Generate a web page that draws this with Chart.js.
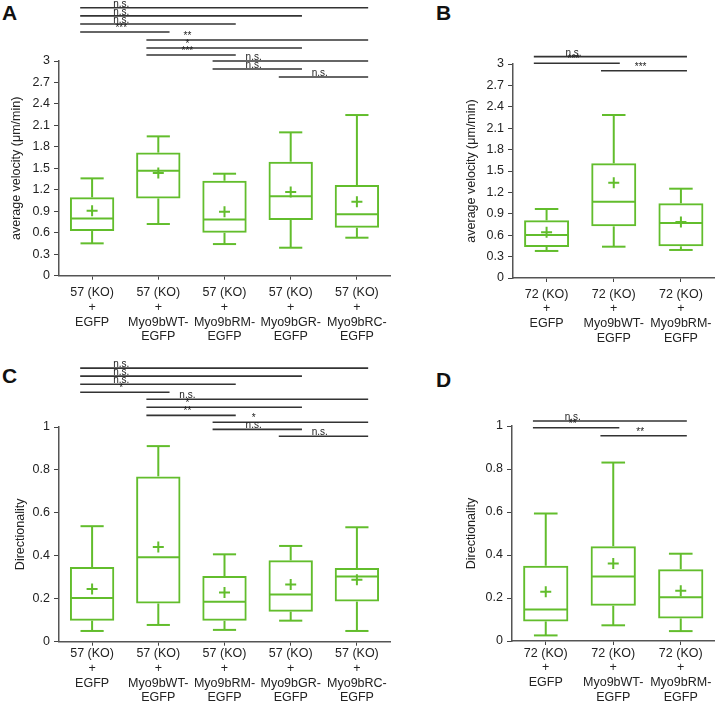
<!DOCTYPE html>
<html>
<head>
<meta charset="utf-8">
<script src="https://cdn.jsdelivr.net/npm/chart.js@4.4.1/dist/chart.umd.min.js"></script>
<style>
  body { margin: 0; background: #fff; width: 722px; height: 707px; position: relative; overflow: hidden; font-family: "Liberation Sans", Arial, sans-serif; }
  canvas { position: absolute; }
  .tag { position: absolute; font-weight: bold; font-size: 21px; line-height: 21px; color: #111; }
</style>
</head>
<body>
<div class="tag" style="left:2px;top:2px">A</div>
<div class="tag" style="left:436px;top:2px">B</div>
<div class="tag" style="left:2px;top:365px">C</div>
<div class="tag" style="left:436px;top:369px">D</div>
<canvas id="chartA" width="400" height="350" style="left:0;top:0"></canvas>
<canvas id="chartB" width="302" height="350" style="left:420px;top:0"></canvas>
<canvas id="chartC" width="400" height="352" style="left:0;top:355px"></canvas>
<canvas id="chartD" width="302" height="352" style="left:420px;top:355px"></canvas>
<script>
const GREEN = '#62bd2c';
const INK = '#222';

const groups57 = [
    ['57 (KO)', '+', 'EGFP'],
    ['57 (KO)', '+', 'Myo9bWT-', 'EGFP'],
    ['57 (KO)', '+', 'Myo9bRM-', 'EGFP'],
    ['57 (KO)', '+', 'Myo9bGR-', 'EGFP'],
    ['57 (KO)', '+', 'Myo9bRC-', 'EGFP'],
];
const groups72 = [
    ['72 (KO)', '+', 'EGFP'],
    ['72 (KO)', '+', 'Myo9bWT-', 'EGFP'],
    ['72 (KO)', '+', 'Myo9bRM-', 'EGFP'],
];

// A - average velocity, 57 (KO)
const velMin57 = [0.452, 0.722, 0.442, 0.391, 0.531];
const velQ1_57 = [0.624, 1.08, 0.60, 0.778, 0.671];
const velMed57 = [0.80, 1.467, 0.787, 1.109, 0.857];
const velQ3_57 = [1.095, 1.72, 1.327, 1.593, 1.267];
const velMax57 = [1.36, 1.947, 1.425, 2.003, 2.245];
const velMean57 = [0.908, 1.435, 0.894, 1.169, 1.034];
const velSig57 = [
    [0, 4, 'n.s.', 3.745], [0, 3, 'n.s.', 3.63], [0, 2, 'n.s.', 3.517], [0, 1, '***', 3.405],
    [1, 4, '**', 3.293], [1, 3, '*', 3.181], [1, 2, '***', 3.083],
    [2, 4, 'n.s.', 3.0], [2, 3, 'n.s.', 2.888], [3, 4, 'n.s.', 2.776],
];

// B - average velocity, 72 (KO)
const velMin72 = [0.379, 0.439, 0.393];
const velQ1_72 = [0.435, 0.724, 0.444];
const velMed72 = [0.603, 1.07, 0.771];
const velQ3_72 = [0.808, 1.607, 1.047];
const velMax72 = [0.967, 2.285, 1.252];
const velMean72 = [0.64, 1.336, 0.785];
const velSig72 = [[0, 2, 'n.s.', 3.103], [0, 1, '***', 3.01], [1, 2, '***', 2.906]];

// C - directionality, 57 (KO)
const dirMin57 = [0.05, 0.078, 0.055, 0.098, 0.05];
const dirQ1_57 = [0.098, 0.178, 0.097, 0.14, 0.187];
const dirMed57 = [0.204, 0.393, 0.186, 0.22, 0.304];
const dirQ3_57 = [0.348, 0.77, 0.306, 0.379, 0.343];
const dirMax57 = [0.538, 0.911, 0.407, 0.446, 0.533];
const dirMean57 = [0.246, 0.441, 0.229, 0.267, 0.288];
const dirSig57 = [
    [0, 4, 'n.s.', 1.274], [0, 3, 'n.s.', 1.237], [0, 2, 'n.s.', 1.199], [0, 1, '*', 1.162],
    [1, 4, 'n.s.', 1.129], [1, 3, '*', 1.092], [1, 2, '**', 1.054],
    [2, 4, '*', 1.022], [2, 3, 'n.s.', 0.989], [3, 4, 'n.s.', 0.957],
];

// D - directionality, 72 (KO)
const dirMin72 = [0.026, 0.073, 0.046];
const dirQ1_72 = [0.091, 0.164, 0.105];
const dirMed72 = [0.147, 0.30, 0.203];
const dirQ3_72 = [0.35, 0.441, 0.334];
const dirMax72 = [0.593, 0.83, 0.406];
const dirMean72 = [0.229, 0.361, 0.234];
const dirSig72 = [[0, 2, 'n.s.', 1.023], [0, 1, '**', 0.992], [1, 2, '**', 0.955]];

const FONT = '"Liberation Sans", Arial, sans-serif';

function boxChart(id, cfg) {
    // whiskers and medians, drawn with the chart's own scales
    const boxParts = {
        id: 'boxParts',
        afterDatasetsDraw(chart) {
            const { ctx, scales: { x, y } } = chart;
            const bars = chart.getDatasetMeta(0).data;
            const step = x.getPixelForValue(1) - x.getPixelForValue(0);
            const cap = step * 0.35 / 2;
            ctx.save();
            ctx.strokeStyle = GREEN;
            ctx.lineWidth = 2;
            cfg.med.forEach((m, i) => {
                const cx = x.getPixelForValue(i);
                const half = bars[i].width / 2;
                const seg = (x0, y0, x1, y1) => {
                    ctx.beginPath();
                    ctx.moveTo(x0, y0);
                    ctx.lineTo(x1, y1);
                    ctx.stroke();
                };
                seg(cx - half + 1, y.getPixelForValue(m), cx + half - 1, y.getPixelForValue(m));
                seg(cx, y.getPixelForValue(cfg.q3[i]), cx, y.getPixelForValue(cfg.max[i]));
                seg(cx - cap, y.getPixelForValue(cfg.max[i]), cx + cap, y.getPixelForValue(cfg.max[i]));
                seg(cx, y.getPixelForValue(cfg.q1[i]), cx, y.getPixelForValue(cfg.min[i]));
                seg(cx - cap, y.getPixelForValue(cfg.min[i]), cx + cap, y.getPixelForValue(cfg.min[i]));
            });
            ctx.restore();
        },
    };

    // significance brackets above the boxes
    const sigLines = {
        id: 'sigLines',
        afterDraw(chart) {
            const { ctx, scales: { x, y } } = chart;
            const step = x.getPixelForValue(1) - x.getPixelForValue(0);
            ctx.save();
            ctx.strokeStyle = '#333';
            ctx.fillStyle = INK;
            ctx.lineWidth = 1.6;
            ctx.font = '10px ' + FONT;
            ctx.textAlign = 'center';
            ctx.textBaseline = 'alphabetic';
            cfg.sig.forEach(([a, b, txt, v]) => {
                const yy = y.getPixelForValue(v);
                ctx.beginPath();
                ctx.moveTo(x.getPixelForValue(a) + cfg.sigStart * step, yy);
                ctx.lineTo(x.getPixelForValue(b) + cfg.sigEnd * step, yy);
                ctx.stroke();
                ctx.fillText(txt, x.getPixelForValue(a) + cfg.sigText * step, yy - 1);
            });
            ctx.restore();
        },
    };

    return new Chart(document.getElementById(id).getContext('2d'), {
        type: 'bar',
        data: {
            labels: cfg.labels,
            datasets: [
                {
                    data: cfg.q1.map((v, i) => [v, cfg.q3[i]]),
                    backgroundColor: 'rgba(0,0,0,0)',
                    borderColor: GREEN,
                    borderWidth: 2,
                    borderSkipped: false,
                    barPercentage: 0.67,
                    categoryPercentage: 1,
                },
                {
                    type: 'line',
                    data: cfg.mean,
                    showLine: false,
                    pointStyle: 'cross',
                    pointRadius: 5.5,
                    pointBorderWidth: 2,
                    pointBorderColor: GREEN,
                    borderColor: GREEN,
                },
            ],
        },
        options: {
            responsive: false,
            animation: false,
            devicePixelRatio: 1,
            layout: { padding: cfg.padding },
            plugins: { legend: { display: false }, tooltip: { enabled: false } },
            scales: {
                x: {
                    afterFit: (s) => { s.height = cfg.xHeight; },
                    grid: { display: true, drawOnChartArea: false, offset: false, tickLength: 4, color: '#444' },
                    border: { display: true, color: '#555', width: 1.5 },
                    ticks: {
                        autoSkip: false, maxRotation: 0, padding: cfg.xPad, color: INK,
                        font: { family: FONT, size: 12.5, lineHeight: 1.17 },
                    },
                },
                y: {
                    min: 0,
                    max: cfg.yMax,
                    afterFit: (s) => { s.width = 59; },
                    grid: { display: true, drawOnChartArea: false, tickLength: 5, color: '#444' },
                    border: { display: true, color: '#555', width: 1.5 },
                    ticks: {
                        stepSize: cfg.yStep, padding: 4, color: INK, font: { family: FONT, size: 12.5 },
                        callback: (value) => String(Number(value.toFixed(2))),
                    },
                    title: {
                        display: true, text: cfg.yTitle, color: INK,
                        font: { family: FONT, size: 12.5 },
                        padding: { top: cfg.titlePad, bottom: 0 },
                    },
                },
            },
        },
        plugins: [boxParts, sigLines],
    });
}

boxChart('chartA', {
    labels: groups57, min: velMin57, q1: velQ1_57, med: velMed57, q3: velQ3_57, max: velMax57, mean: velMean57,
    sig: velSig57, sigStart: -0.18, sigEnd: 0.17, sigText: 0.44,
    yMax: 3, yStep: 0.3, yTitle: 'average velocity (μm/min)', titlePad: 9,
    padding: { top: 61, left: 0, right: 10, bottom: 0 }, xHeight: 74.3, xPad: 6,
});

boxChart('chartB', {
    labels: groups72, min: velMin72, q1: velQ1_72, med: velMed72, q3: velQ3_72, max: velMax72, mean: velMean72,
    sig: velSig72, sigStart: -0.19, sigEnd: 0.09, sigText: 0.4,
    yMax: 3, yStep: 0.3, yTitle: 'average velocity (μm/min)', titlePad: 10,
    padding: { top: 64, left: 34, right: 3, bottom: 0 }, xHeight: 72, xPad: 5,
});

boxChart('chartC', {
    labels: groups57, min: dirMin57, q1: dirQ1_57, med: dirMed57, q3: dirQ3_57, max: dirMax57, mean: dirMean57,
    sig: dirSig57, sigStart: -0.18, sigEnd: 0.17, sigText: 0.44,
    yMax: 1, yStep: 0.2, yTitle: 'Directionality', titlePad: 13,
    padding: { top: 72, left: 0, right: 10, bottom: 0 }, xHeight: 65.3, xPad: 1,
});

boxChart('chartD', {
    labels: groups72, min: dirMin72, q1: dirQ1_72, med: dirMed72, q3: dirQ3_72, max: dirMax72, mean: dirMean72,
    sig: dirSig72, sigStart: -0.19, sigEnd: 0.09, sigText: 0.4,
    yMax: 1, yStep: 0.2, yTitle: 'Directionality', titlePad: 11,
    padding: { top: 71, left: 33, right: 3, bottom: 0 }, xHeight: 66, xPad: 1,
});
</script>
</body>
</html>
